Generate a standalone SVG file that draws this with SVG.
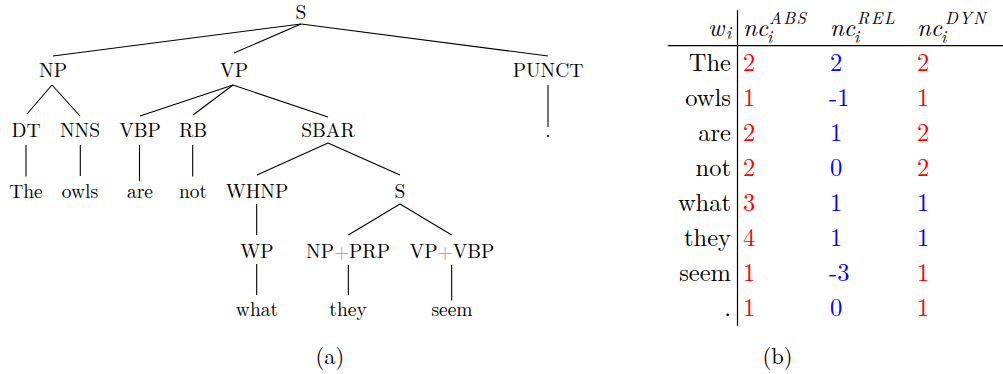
<svg xmlns="http://www.w3.org/2000/svg" width="1003" height="374" viewBox="0 0 1003 374">
<style>
text{font-family:"Latin Modern Roman","Noto Serif Display","Liberation Serif",serif;fill:#000}
.t{font-size:19.5px;text-anchor:middle}
.cap{font-size:22.5px;text-anchor:middle}
.w{font-size:24.5px;text-anchor:end}
.mi{font-style:italic;font-size:24.5px}
.sup{font-style:italic;font-size:17px;letter-spacing:1.5px}
.n{font-size:24.5px}
.r{fill:#ff0000}
.b{fill:#0000ff}
.plus{fill:#999}
.e line{stroke:#000;stroke-width:1.1}
.rule{stroke:#000;stroke-width:1.2}
</style>
<g id="edges" class="e">
<line x1="301" y1="24" x2="53" y2="56"/>
<line x1="301" y1="24" x2="234" y2="53"/>
<line x1="301" y1="24" x2="548" y2="56"/>
<line x1="52" y1="85" x2="27" y2="114"/>
<line x1="52" y1="85" x2="80" y2="116"/>
<line x1="233" y1="85" x2="140" y2="116"/>
<line x1="233" y1="85" x2="193" y2="115"/>
<line x1="233" y1="85" x2="328" y2="117"/>
<line x1="548" y1="85" x2="548" y2="127"/>
<line x1="26" y1="145" x2="26" y2="176.5"/>
<line x1="80.3" y1="145" x2="80.3" y2="176"/>
<line x1="139.5" y1="145" x2="139.5" y2="181"/>
<line x1="192.7" y1="145" x2="192.7" y2="176.5"/>
<line x1="328" y1="143" x2="257" y2="175"/>
<line x1="328" y1="143" x2="400" y2="175"/>
<line x1="256.7" y1="204" x2="256.7" y2="235"/>
<line x1="400" y1="204" x2="348.3" y2="235"/>
<line x1="400" y1="204" x2="451.7" y2="235"/>
<line x1="256.7" y1="264" x2="256.7" y2="295"/>
<line x1="348.3" y1="265" x2="348.3" y2="295"/>
<line x1="451.7" y1="265" x2="451.7" y2="300.5"/>
</g>
<g id="n-S"><text class="t" x="301" y="19">S</text></g>
<g id="n-NP"><text class="t" x="53" y="77">NP</text></g>
<g id="n-VP"><text class="t" x="234" y="77">VP</text></g>
<g id="n-PUNCT"><text class="t" x="548" y="77">PUNCT</text></g>
<g id="n-DT"><text class="t" x="26" y="137">DT</text></g>
<g id="n-NNS"><text class="t" x="80" y="137">NNS</text></g>
<g id="n-VBP"><text class="t" x="140" y="137">VBP</text></g>
<g id="n-RB"><text class="t" x="193" y="137">RB</text></g>
<g id="n-SBAR"><text class="t" x="328" y="137">SBAR</text></g>
<g id="n-dot"><text class="t" x="548" y="137">.</text></g>
<g id="n-The"><text class="t" x="26" y="197.5">The</text></g>
<g id="n-owls"><text class="t" x="80" y="197.5">owls</text></g>
<g id="n-are"><text class="t" x="140" y="197.5">are</text></g>
<g id="n-not"><text class="t" x="193" y="197.5">not</text></g>
<g id="n-WHNP"><text class="t" x="257" y="197.5">WHNP</text></g>
<g id="n-S2"><text class="t" x="400" y="197.5">S</text></g>
<g id="n-WP"><text class="t" x="257" y="257.5">WP</text></g>
<g id="n-NPPRP"><text class="t" x="348" y="257.5">NP<tspan class="plus">+</tspan>PRP</text></g>
<g id="n-VPVBP"><text class="t" x="452" y="257.5">VP<tspan class="plus">+</tspan>VBP</text></g>
<g id="n-what"><text class="t" x="257" y="316">what</text></g>
<g id="n-they"><text class="t" x="348" y="316">they</text></g>
<g id="n-seem"><text class="t" x="452" y="316">seem</text></g>
<text class="cap" x="330" y="363.5">(a)</text>

<g id="table">
<line class="rule" x1="737.5" y1="10" x2="737.5" y2="326"/>
<line class="rule" x1="668" y1="45.7" x2="1003" y2="45.7"/>
<text class="mi" x="708" y="35.5">w</text>
<text class="sup" x="726" y="39">i</text>
<text class="mi" x="743" y="35.5">nc</text>
<text class="sup" x="769" y="24">ABS</text>
<text class="sup" x="767" y="42.5">i</text>
<text class="mi" x="830" y="35.5">nc</text>
<text class="sup" x="857" y="24">REL</text>
<text class="sup" x="854" y="42.5">i</text>
<text class="mi" x="917" y="35.5">nc</text>
<text class="sup" x="945" y="24">DYN</text>
<text class="sup" x="941" y="42.5">i</text>

<text class="w" x="731" y="70.7">The</text>
<text class="w" x="731" y="105.7">owls</text>
<text class="w" x="731" y="140.8">are</text>
<text class="w" x="731" y="175.8">not</text>
<text class="w" x="731" y="210.9">what</text>
<text class="w" x="731" y="245.9">they</text>
<text class="w" x="731" y="280.9">seem</text>
<text class="w" x="731" y="316">.</text>

<text class="n r" x="743" y="70.7">2</text>
<text class="n r" x="743" y="105.7">1</text>
<text class="n r" x="743" y="140.8">2</text>
<text class="n r" x="743" y="175.8">2</text>
<text class="n r" x="743" y="210.9">3</text>
<text class="n r" x="743" y="245.9">4</text>
<text class="n r" x="743" y="280.9">1</text>
<text class="n r" x="743" y="316">1</text>

<text class="n b" x="830" y="70.7">2</text>
<text class="n b" x="829" y="105.7">-1</text>
<text class="n b" x="830" y="140.8">1</text>
<text class="n b" x="830" y="175.8">0</text>
<text class="n b" x="830" y="210.9">1</text>
<text class="n b" x="830" y="245.9">1</text>
<text class="n b" x="829" y="280.9">-3</text>
<text class="n b" x="830" y="316">0</text>

<text class="n r" x="917" y="70.7">2</text>
<text class="n r" x="917" y="105.7">1</text>
<text class="n r" x="917" y="140.8">2</text>
<text class="n r" x="917" y="175.8">2</text>
<text class="n b" x="917" y="210.9">1</text>
<text class="n b" x="917" y="245.9">1</text>
<text class="n r" x="917" y="280.9">1</text>
<text class="n r" x="917" y="316">1</text>
</g>
<text class="cap" x="777.5" y="363.5">(b)</text>
</svg>
